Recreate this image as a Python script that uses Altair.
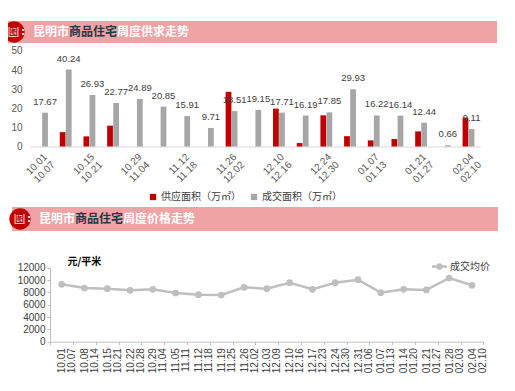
import altair as alt
import pandas as pd

# ---------------- data ----------------
weeks = ["10.01-10.07", "10.08-10.14", "10.15-10.21", "10.22-10.28", "10.29-11.04",
         "11.05-11.11", "11.12-11.18", "11.19-11.25", "11.26-12.02", "12.03-12.09",
         "12.10-12.16", "12.17-12.23", "12.24-12.30", "12.31-01.06", "01.07-01.13",
         "01.14-01.20", "01.21-01.27", "01.28-02.03", "02.04-02.10"]
supply = [0, 7.5, 5.3, 10.9, 0, 0, 0, 0, 28.6, 0, 19.8, 1.8, 16.3, 5.4, 3.2, 3.9, 7.9, 0, 15.1]
deal = [17.67, 40.24, 26.93, 22.77, 24.89, 20.85, 15.91, 9.71, 18.51, 19.15,
        17.71, 16.19, 17.85, 29.93, 16.22, 16.14, 12.44, 0.66, 9.11]
price = [9310, 8710, 8600, 8330, 8500, 7900, 7620, 7570, 8820, 8600,
         9570, 8500, 9570, 10050, 7950, 8500, 8390, 10330, 9150]
bar_series = ["供应面积（万㎡）", "成交面积（万㎡）"]
line_series = ["成交均价"]
title1 = ["昆明市", "商品住宅", "周度供求走势"]
title2 = ["昆明市", "商品住宅", "周度价格走势"]
bar_ticks = [0, 10, 20, 30, 40, 50]
line_ticks = [0, 2000, 4000, 6000, 8000, 10000, 12000]
line_unit = "元/平米"

# ---------------- styles ----------------
W, H = 499, 375
RED = "#C00000"
GRAY = "#A6A6A6"
PINK = "#EFA3A5"
LGRAY = "#BFBFBF"
DARK = "#1E3A48"
CJK = "Noto Sans CJK SC"
LAT = "Liberation Sans"

rows = []
for w, s, d in zip(weeks, supply, deal):
    rows.append({"week": w, "series": bar_series[0], "value": s, "label": ""})
    rows.append({"week": w, "series": bar_series[1], "value": d, "label": f"{d:.2f}"})
bar_df = pd.DataFrame(rows)
line_df = pd.DataFrame({"week": weeks, "price": price, "series": line_series[0]})
one = pd.DataFrame({"k": [0]})


def banner(x0, x1, y0, y1, cx, cy, r, parts, tx):
    cyc = (y0 + y1) / 2
    layers = [
        alt.Chart(one).mark_rect(color=PINK).encode(
            x=alt.value(x0), x2=alt.value(x1), y=alt.value(y0), y2=alt.value(y1)),
        alt.Chart(one).mark_circle(color=RED, opacity=1, size=3.1416 * r * r).encode(
            x=alt.value(cx), y=alt.value(cy)),
        alt.Chart(one).mark_rect(color="#F6C9CB").encode(
            x=alt.value(cx - 5.5), x2=alt.value(cx + 4.5), y=alt.value(cy - 5), y2=alt.value(cy + 5)),
        alt.Chart(one).mark_text(text="图", color=RED, fontSize=9, fontWeight="bold", font=CJK,
                                 baseline="middle").encode(x=alt.value(cx - 0.5), y=alt.value(cy)),
        alt.Chart(one).mark_text(text=":", color="white", fontSize=11, fontWeight="bold", font=CJK,
                                 baseline="middle").encode(x=alt.value(cx + 9), y=alt.value(cyc)),
    ]
    xs = tx
    for part, col in zip(parts, ["white", DARK, "white"]):
        layers.append(alt.Chart(one).mark_text(text=part, color=col, fontSize=12, fontWeight="bold",
                                               font=CJK, align="left", baseline="middle").encode(
            x=alt.value(xs), y=alt.value(cyc)))
        xs += 12 * len(part)
    return layers


# ---------------- bar chart ----------------
xb = alt.X("week:N", sort=weeks,
           scale=alt.Scale(domain=weeks, range=[22.15, 472.35], paddingInner=0.5, paddingOuter=0.25),
           axis=alt.Axis(orient="bottom", values=weeks[::2], labelExpr="split(datum.label, '-')",
                         labelAngle=315, labelAlign="right", labelBaseline="top", ticks=False,
                         domainColor="#D9D9D9", offset=138.5 - H, labelPadding=5, labelFontSize=10,
                         labelColor="#595959", labelFont=LAT, title=None, grid=False,
                         labelOverlap=False, labelLineHeight=11))
xo = alt.XOffset("series:N", sort=bar_series,
                 scale=alt.Scale(domain=bar_series, paddingInner=0.05))
yb = alt.Y("value:Q", scale=alt.Scale(domain=[0, 50], range=[138.5, 42.9], nice=False),
           axis=alt.Axis(orient="left", values=bar_ticks, offset=-14, domain=False, ticks=False,
                         tickSize=0, labelPadding=0, grid=False, title=None, labelColor="#595959",
                         labelFontSize=10, labelFont=LAT, labelOverlap=False))

bars = alt.Chart(bar_df).mark_bar().encode(
    x=xb, xOffset=xo, y=yb,
    color=alt.Color("series:N", sort=bar_series,
                    scale=alt.Scale(domain=bar_series, range=[RED, GRAY]),
                    legend=alt.Legend(orient="none", legendX=140, legendY=184, direction="horizontal",
                                      title=None, symbolType="square", symbolSize=40,
                                      labelFontSize=10, labelColor="#404040", labelFont=CJK,
                                      columnPadding=8, labelOffset=3)))
labels = alt.Chart(bar_df).transform_filter(alt.datum.series == bar_series[1]).mark_text(
    dy=-6, fontSize=9.5, color="#404040", baseline="bottom", font=LAT).encode(
    x=xb, xOffset=xo, y=yb, text="label:N")
bar_layer = alt.layer(bars, labels)

# ---------------- line chart ----------------
xl = alt.X("week:N", sort=weeks,
           scale=alt.Scale(type="band", domain=weeks, range=[42.3, 475.4], paddingInner=0, paddingOuter=0),
           axis=alt.Axis(orient="bottom", labelExpr="split(datum.label, '-')", labelAngle=270,
                         labelAlign="right", labelBaseline="middle", tickBand="extent", ticks=True,
                         tickSize=3, tickColor=LGRAY, domainColor=LGRAY, offset=333.7 - H,
                         labelPadding=3, labelFontSize=10, labelColor="#404040", labelFont=LAT,
                         title=None, grid=False, labelOverlap=False, labelLineHeight=10))
yl = alt.Y("price:Q", scale=alt.Scale(domain=[0, 12000], range=[333.7, 259.7], nice=False),
           axis=alt.Axis(orient="left", values=line_ticks, format="d", offset=-42, tickSize=3,
                         tickColor=LGRAY, domainColor=LGRAY, labelPadding=2, grid=False,
                         labelFontSize=10, labelColor="#404040", labelFont=LAT, labelOverlap=False,
                         title=line_unit, titleAngle=0, titleX=17, titleY=253, titleAlign="left",
                         titleBaseline="middle", titleFontSize=10, titleFontWeight="bold",
                         titleFont=CJK, titleColor="#000000"))

line = alt.Chart(line_df).mark_line(color=LGRAY, strokeWidth=2.5).encode(x=xl, y=yl)
pts = alt.Chart(line_df).mark_circle(size=45, opacity=1).encode(
    x=xl, y=yl,
    color=alt.Color("series:N", scale=alt.Scale(domain=line_series, range=[LGRAY]),
                    legend=alt.Legend(orient="none", legendX=424, legendY=251, title=None,
                                      symbolType="M-1,-0.17L1,-0.17L1,0.17L-1,0.17Z"
                                                 "M0.45,0A0.45,0.45,0,1,1,-0.45,0A0.45,0.45,0,1,1,0.45,0Z",
                                      symbolSize=225, symbolFillColor=LGRAY, symbolStrokeWidth=0,
                                      labelFontSize=10, labelFont=CJK, labelColor="#404040",
                                      labelOffset=3)))
line_layer = alt.layer(line, pts)

b1 = banner(0, 489, 13, 35, 6, 24, 12, title1, 25)
b2 = banner(4, 490, 199, 223, 12, 211, 12, title2, 31)

chart = alt.layer(*b1, *b2, bar_layer, line_layer).resolve_scale(
    x="independent", y="independent", color="independent", xOffset="independent"
).properties(
    width=W, height=H, autosize=alt.AutoSizeParams(type="none"), padding=0
).configure_view(stroke=None)

chart.save("out.html", embed_options={"renderer": "svg", "actions": False})
